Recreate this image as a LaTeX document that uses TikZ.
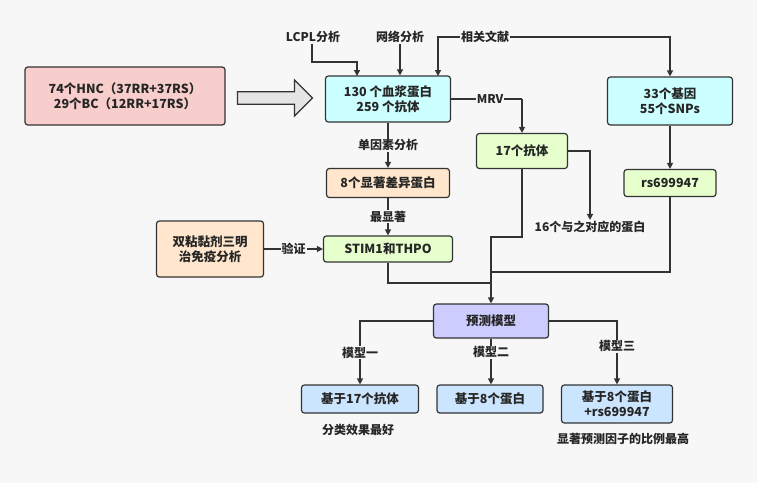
\documentclass[tikz,border=0pt]{standalone}
\usepackage{fontspec}
\setmainfont{Noto Sans CJK SC}
\usepackage{tikz}
\usetikzlibrary{
	arrows.meta,
	positioning,
	shapes.arrows,
	backgrounds
}
\definecolor{line}{RGB}{51,51,51}
\definecolor{red1}{RGB}{248,206,204}
\definecolor{cyan1}{RGB}{204,255,255}
\definecolor{green1}{RGB}{230,255,204}
\definecolor{orange1}{RGB}{255,230,204}
\definecolor{purple1}{RGB}{204,204,255}
\definecolor{blue1}{RGB}{204,229,255}
\tikzset{
  % arrow
	cstra/.style      ={-{Triangle[length=6pt,width=6pt]}, line width=1.3pt, draw=line},
	cstline/.style    ={line width=1.3pt, draw=line},
  % node
	cstnode/.style    ={draw=line,text=black!85,rounded corners=0.1cm,line width=1.2pt,align=center,font=\fontsize{12.5}{15}\selectfont\bfseries},
	cstnode1/.style   ={cstnode,fill=red1},
	cstnode2/.style   ={cstnode,fill=cyan1},
	cstnode3/.style   ={cstnode,fill=green1},
	cstnode4/.style   ={cstnode,fill=orange1},
	cstnode5/.style   ={cstnode,fill=purple1},
	cstnode6/.style   ={cstnode,fill=blue1},
	csttext/.style    ={fill=white!97!black,text=black!85,inner sep=1pt,font=\fontsize{12}{14}\selectfont\bfseries}
}
\begin{document}
\begin{tikzpicture}[x=1pt,y=-1pt]
	\fill[white!97!black] (0,0) rectangle (757,483);
	\useasboundingbox (0,0) rectangle (757,483);
	% boxes
	\node[cstnode1,minimum width=200pt,minimum height=58pt] (input) at (125,96) {74个HNC（37RR+37RS）\\29个BC（12RR+17RS）};
	\node[cstnode2,minimum width=125pt,minimum height=46pt] (plasma) at (388,99) {130 个血浆蛋白\\259 个抗体};
	\node[cstnode2,minimum width=125pt,minimum height=48pt] (gene) at (670,101) {33个基因\\55个SNPs};
	\node[cstnode3,minimum width=91pt,minimum height=35pt] (anti) at (522,151) {17个抗体};
	\node[cstnode4,minimum width=123pt,minimum height=29pt] (eight) at (388,183) {8个显著差异蛋白};
	\node[cstnode3,minimum width=92pt,minimum height=27pt] (rs) at (670,183) {rs699947};
	\node[cstnode3,minimum width=129pt,minimum height=26pt] (stim) at (388,249) {STIM1和THPO};
	\node[cstnode4,minimum width=107pt,minimum height=56pt] (valid) at (210,249) {双粘黏剂三明\\治免疫分析};
	\node[cstnode5,minimum width=115pt,minimum height=34pt] (model) at (491,321) {预测模型};
	\node[cstnode6,minimum width=117pt,minimum height=28pt] (m1) at (360,399) {基于17个抗体};
	\node[cstnode6,minimum width=106pt,minimum height=28pt] (m2) at (490,399) {基于8个蛋白};
	\node[cstnode6,minimum width=111pt,minimum height=38pt,inner sep=1pt] (m3) at (617,404) {基于8个蛋白\\+rs699947};
	% texts
	\node[csttext] (lcpl) at (313,37) {LCPL分析};
	\node[csttext] (net) at (400,37) {网络分析};
	\node[csttext] (lit) at (485,37) {相关文献};
	\node[csttext] (prot) at (590,227) {16个与之对应的蛋白};
	\node[csttext] (best) at (358,430) {分类效果最好};
	\node[csttext] (ratio) at (623,439) {显著预测因子的比例最高};
	\node[single arrow,draw=line,fill=gray!20,line width=1.2pt,minimum height=75pt,minimum width=36pt,single arrow head extend=5pt,inner sep=2pt] (big) at (272,98) {};
	% connectors
	\draw[cstra] (lcpl.south -| 312,0) |- (357,62) -- (357,76);
	\draw[cstra] (net) -- (net |- plasma.north);
	\draw[cstra] (lit.west) -- (438,37) -- (438,76);
	\draw[cstra] (lit.east) -| (gene.north);
	\draw[cstline] (plasma.east) -- (522,99) node[csttext,pos=0.55] {MRV};
	\draw[cstra] (522,99) -- (anti.north);
	\draw[cstra] (anti.east) -| (prot.north);
	\draw[cstra] (plasma.south) -- (eight.north) node[csttext,midway] {单因素分析};
	\draw[cstra] (eight.south) -- (stim.north) node[csttext,midway] {最显著};
	\draw[cstra] (valid.east) -- (stim.west) node[csttext,midway] {验证};
	\draw[cstra] (gene.south) -- (rs.north);
	\draw[cstline] (stim.south) |- (491,283);
	\draw[cstline] (anti.south) |- (491,237) -- (491,283);
	\draw[cstline] (rs.south) |- (491,272);
	\draw[cstra] (491,283) -- (model.north);
	\draw[cstra] (model.west) -| (m1.north) node[csttext,pos=0.75] {模型一};
	\draw[cstra] (model.south) -- (model.south |- m2.north) node[csttext,pos=0.3] {模型二};
	\draw[cstra] (model.east) -| (m3.north) node[csttext,pos=0.7] {模型三};
\end{tikzpicture}
\end{document}
